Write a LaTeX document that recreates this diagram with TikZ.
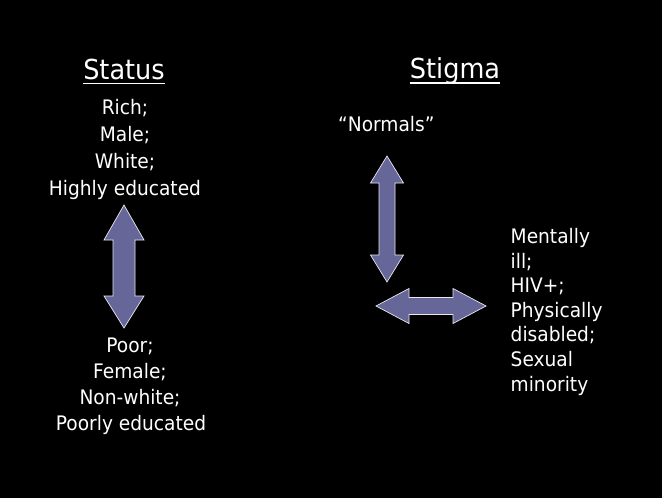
\documentclass[tikz,border=0pt]{standalone}
\usepackage{fontspec}
\setmainfont{DejaVu Sans}[FakeStretch=0.93]
\definecolor{arrowfill}{RGB}{102,102,153}
\begin{document}
\begin{tikzpicture}[x=1pt,y=-1pt,
  txt/.style={inner sep=0pt,text=white,font=\fontsize{20}{24}\selectfont},
  head/.style={inner sep=0pt,text=white,font=\fontsize{27.5}{32}\selectfont},
  uline/.style={white,line width=1.4pt},
  arr/.style={fill=arrowfill,draw=white!85!arrowfill,line width=0.7pt,line join=miter}]
\fill[black] (0,0) rectangle (662,498);
\useasboundingbox (0,0) rectangle (662,498);
% headings
\node[head,anchor=base] (st) at (124,79) {Status};
\draw[uline] ([yshift=-4.5pt]st.base west) -- ([yshift=-4.5pt]st.base east);
\node[head,anchor=base] (sg) at (455,78.5) {Stigma};
\draw[uline] ([yshift=-4.5pt]sg.base west) -- ([yshift=-4.5pt]sg.base east);
% status top
\node[txt,anchor=base] (t1) at (125,114.5) {Rich;};
\node[txt,anchor=base] (t2) at (125,141.5) {Male;};
\node[txt,anchor=base] (t3) at (125,168.5) {White;};
\node[txt,anchor=base] (t4) at (125,195.5) {Highly educated};
% status bottom
\node[txt,anchor=base] (b1) at (130,352) {Poor;};
\node[txt,anchor=base] (b2) at (130,378) {Female;};
\node[txt,anchor=base] (b3) at (130,404) {Non-white;};
\node[txt,anchor=base] (b4) at (131,430) {Poorly educated};
% stigma
\node[txt,anchor=base west] (nm) at (338,131.5) {“Normals”};
\node[txt,anchor=base west] (r1) at (510.5,243.5) {Mentally};
\node[txt,anchor=base west] (r2) at (510.5,268.1) {ill;};
\node[txt,anchor=base west] (r3) at (510.5,292.7) {HIV+;};
\node[txt,anchor=base west] (r4) at (510.5,317.3) {Physically};
\node[txt,anchor=base west] (r5) at (510.5,341.9) {disabled;};
\node[txt,anchor=base west] (r6) at (510.5,366.5) {Sexual};
\node[txt,anchor=base west] (r7) at (510.5,391.1) {minority};
% left double arrow (vertical)
\draw[arr] (124,205) -- (144,240) -- (135,240) -- (135,296) -- (144,296) -- (124,328)
  -- (104,296) -- (113,296) -- (113,240) -- (104,240) -- cycle;
% right vertical double arrow
\draw[arr] (387,156) -- (403.5,183) -- (395,183) -- (395,255) -- (403.5,255) -- (387,282)
  -- (370.5,255) -- (379,255) -- (379,183) -- (370.5,183) -- cycle;
% horizontal double arrow
\draw[arr] (376,306) -- (409,288.5) -- (409,297.5) -- (453,297.5) -- (453,288.5) -- (486,306)
  -- (453,323.5) -- (453,314.5) -- (409,314.5) -- (409,323.5) -- cycle;
\end{tikzpicture}
\end{document}
